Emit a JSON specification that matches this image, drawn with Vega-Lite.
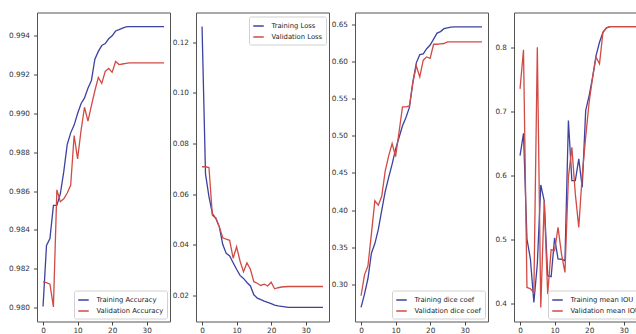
{
"$schema": "https://vega.github.io/schema/vega-lite/v6.json",
"usermeta": {"embedOptions": {"actions": false}},
"padding": {"left": 8, "top": 11.5, "right": 0, "bottom": 0},
"bounds": "flush",
"spacing": 26,
"config": {
  "font": "DejaVu Sans",
  "view": {"stroke": "#555555", "strokeWidth": 1},
  "axis": {"grid": false, "domain": false, "tickSize": 3.5, "tickColor": "#444444", "labelFontSize": 7.3, "labelColor": "#333333", "title": null, "labelFont": "DejaVu Sans"},
  "axisY": {"labelPadding": 4},
  "axisX": {"labelPadding": 1.5},
  "legend": {"title": null, "strokeColor": "#d0d0d0", "fillColor": "white", "padding": 3.5, "cornerRadius": 2, "offset": 3.5, "labelFontSize": 6.8, "labelColor": "#222222", "symbolType": "stroke", "symbolSize": 110, "symbolStrokeWidth": 1.5, "rowPadding": 1, "labelOffset": 7, "labelFont": "DejaVu Sans"}
},
"datasets": {
"acc": [
{"epoch":0,"series":"Training Accuracy","value":0.98005},{"epoch":1,"series":"Training Accuracy","value":0.9832},{"epoch":2,"series":"Training Accuracy","value":0.98355},{"epoch":3,"series":"Training Accuracy","value":0.98526},{"epoch":4,"series":"Training Accuracy","value":0.98526},{"epoch":5,"series":"Training Accuracy","value":0.98586},{"epoch":6,"series":"Training Accuracy","value":0.987},{"epoch":7,"series":"Training Accuracy","value":0.9884},{"epoch":8,"series":"Training Accuracy","value":0.989},{"epoch":9,"series":"Training Accuracy","value":0.9894},{"epoch":10,"series":"Training Accuracy","value":0.99},{"epoch":11,"series":"Training Accuracy","value":0.9905},{"epoch":12,"series":"Training Accuracy","value":0.9908},{"epoch":13,"series":"Training Accuracy","value":0.9913},{"epoch":14,"series":"Training Accuracy","value":0.9917},{"epoch":15,"series":"Training Accuracy","value":0.9928},{"epoch":16,"series":"Training Accuracy","value":0.9932},{"epoch":17,"series":"Training Accuracy","value":0.9935},{"epoch":18,"series":"Training Accuracy","value":0.9936},{"epoch":19,"series":"Training Accuracy","value":0.99385},{"epoch":20,"series":"Training Accuracy","value":0.994},{"epoch":21,"series":"Training Accuracy","value":0.99425},{"epoch":22,"series":"Training Accuracy","value":0.99432},{"epoch":23,"series":"Training Accuracy","value":0.9944},{"epoch":24,"series":"Training Accuracy","value":0.99446},{"epoch":25,"series":"Training Accuracy","value":0.99448},{"epoch":26,"series":"Training Accuracy","value":0.99448},{"epoch":27,"series":"Training Accuracy","value":0.99448},{"epoch":28,"series":"Training Accuracy","value":0.99448},{"epoch":29,"series":"Training Accuracy","value":0.99448},{"epoch":30,"series":"Training Accuracy","value":0.99448},{"epoch":31,"series":"Training Accuracy","value":0.99448},{"epoch":32,"series":"Training Accuracy","value":0.99448},{"epoch":33,"series":"Training Accuracy","value":0.99448},{"epoch":34,"series":"Training Accuracy","value":0.99448},{"epoch":35,"series":"Training Accuracy","value":0.99448},
{"epoch":0,"series":"Validation Accuracy","value":0.98132},{"epoch":1,"series":"Validation Accuracy","value":0.98128},{"epoch":2,"series":"Validation Accuracy","value":0.9812},{"epoch":3,"series":"Validation Accuracy","value":0.98003},{"epoch":4,"series":"Validation Accuracy","value":0.98606},{"epoch":5,"series":"Validation Accuracy","value":0.98545},{"epoch":6,"series":"Validation Accuracy","value":0.9856},{"epoch":7,"series":"Validation Accuracy","value":0.9859},{"epoch":8,"series":"Validation Accuracy","value":0.9863},{"epoch":9,"series":"Validation Accuracy","value":0.98886},{"epoch":10,"series":"Validation Accuracy","value":0.98766},{"epoch":11,"series":"Validation Accuracy","value":0.98912},{"epoch":12,"series":"Validation Accuracy","value":0.99032},{"epoch":13,"series":"Validation Accuracy","value":0.9896},{"epoch":14,"series":"Validation Accuracy","value":0.9904},{"epoch":15,"series":"Validation Accuracy","value":0.99117},{"epoch":16,"series":"Validation Accuracy","value":0.99186},{"epoch":17,"series":"Validation Accuracy","value":0.99155},{"epoch":18,"series":"Validation Accuracy","value":0.99217},{"epoch":19,"series":"Validation Accuracy","value":0.99232},{"epoch":20,"series":"Validation Accuracy","value":0.99212},{"epoch":21,"series":"Validation Accuracy","value":0.99268},{"epoch":22,"series":"Validation Accuracy","value":0.99252},{"epoch":23,"series":"Validation Accuracy","value":0.99255},{"epoch":24,"series":"Validation Accuracy","value":0.99258},{"epoch":25,"series":"Validation Accuracy","value":0.99261},{"epoch":26,"series":"Validation Accuracy","value":0.99261},{"epoch":27,"series":"Validation Accuracy","value":0.99261},{"epoch":28,"series":"Validation Accuracy","value":0.99261},{"epoch":29,"series":"Validation Accuracy","value":0.99261},{"epoch":30,"series":"Validation Accuracy","value":0.99261},{"epoch":31,"series":"Validation Accuracy","value":0.99261},{"epoch":32,"series":"Validation Accuracy","value":0.99261},{"epoch":33,"series":"Validation Accuracy","value":0.99261},{"epoch":34,"series":"Validation Accuracy","value":0.99261},{"epoch":35,"series":"Validation Accuracy","value":0.99261}
],
"loss": [
{"epoch":0,"series":"Training Loss","value":0.1263},{"epoch":1,"series":"Training Loss","value":0.068},{"epoch":2,"series":"Training Loss","value":0.059},{"epoch":3,"series":"Training Loss","value":0.0522},{"epoch":4,"series":"Training Loss","value":0.0503},{"epoch":5,"series":"Training Loss","value":0.047},{"epoch":6,"series":"Training Loss","value":0.04},{"epoch":7,"series":"Training Loss","value":0.0365},{"epoch":8,"series":"Training Loss","value":0.0355},{"epoch":9,"series":"Training Loss","value":0.0328},{"epoch":10,"series":"Training Loss","value":0.0302},{"epoch":11,"series":"Training Loss","value":0.0278},{"epoch":12,"series":"Training Loss","value":0.0266},{"epoch":13,"series":"Training Loss","value":0.025},{"epoch":14,"series":"Training Loss","value":0.0236},{"epoch":15,"series":"Training Loss","value":0.0201},{"epoch":16,"series":"Training Loss","value":0.0188},{"epoch":17,"series":"Training Loss","value":0.0182},{"epoch":18,"series":"Training Loss","value":0.0176},{"epoch":19,"series":"Training Loss","value":0.0171},{"epoch":20,"series":"Training Loss","value":0.0166},{"epoch":21,"series":"Training Loss","value":0.016},{"epoch":22,"series":"Training Loss","value":0.0157},{"epoch":23,"series":"Training Loss","value":0.0155},{"epoch":24,"series":"Training Loss","value":0.0153},{"epoch":25,"series":"Training Loss","value":0.0151},{"epoch":26,"series":"Training Loss","value":0.0151},{"epoch":27,"series":"Training Loss","value":0.0151},{"epoch":28,"series":"Training Loss","value":0.0151},{"epoch":29,"series":"Training Loss","value":0.0151},{"epoch":30,"series":"Training Loss","value":0.0151},{"epoch":31,"series":"Training Loss","value":0.0151},{"epoch":32,"series":"Training Loss","value":0.0151},{"epoch":33,"series":"Training Loss","value":0.0151},{"epoch":34,"series":"Training Loss","value":0.0151},{"epoch":35,"series":"Training Loss","value":0.0151},
{"epoch":0,"series":"Validation Loss","value":0.0708},{"epoch":1,"series":"Validation Loss","value":0.0708},{"epoch":2,"series":"Validation Loss","value":0.0705},{"epoch":3,"series":"Validation Loss","value":0.0515},{"epoch":4,"series":"Validation Loss","value":0.0505},{"epoch":5,"series":"Validation Loss","value":0.047},{"epoch":6,"series":"Validation Loss","value":0.0427},{"epoch":7,"series":"Validation Loss","value":0.0421},{"epoch":8,"series":"Validation Loss","value":0.0417},{"epoch":9,"series":"Validation Loss","value":0.0346},{"epoch":10,"series":"Validation Loss","value":0.0391},{"epoch":11,"series":"Validation Loss","value":0.0335},{"epoch":12,"series":"Validation Loss","value":0.0292},{"epoch":13,"series":"Validation Loss","value":0.0328},{"epoch":14,"series":"Validation Loss","value":0.0302},{"epoch":15,"series":"Validation Loss","value":0.0253},{"epoch":16,"series":"Validation Loss","value":0.0247},{"epoch":17,"series":"Validation Loss","value":0.0238},{"epoch":18,"series":"Validation Loss","value":0.0243},{"epoch":19,"series":"Validation Loss","value":0.0236},{"epoch":20,"series":"Validation Loss","value":0.0251},{"epoch":21,"series":"Validation Loss","value":0.0225},{"epoch":22,"series":"Validation Loss","value":0.0229},{"epoch":23,"series":"Validation Loss","value":0.0232},{"epoch":24,"series":"Validation Loss","value":0.0233},{"epoch":25,"series":"Validation Loss","value":0.0234},{"epoch":26,"series":"Validation Loss","value":0.0234},{"epoch":27,"series":"Validation Loss","value":0.0234},{"epoch":28,"series":"Validation Loss","value":0.0234},{"epoch":29,"series":"Validation Loss","value":0.0234},{"epoch":30,"series":"Validation Loss","value":0.0234},{"epoch":31,"series":"Validation Loss","value":0.0234},{"epoch":32,"series":"Validation Loss","value":0.0234},{"epoch":33,"series":"Validation Loss","value":0.0234},{"epoch":34,"series":"Validation Loss","value":0.0234},{"epoch":35,"series":"Validation Loss","value":0.0234}
],
"dice": [
{"epoch":0,"series":"Training dice coef","value":0.2691},{"epoch":1,"series":"Training dice coef","value":0.287},{"epoch":2,"series":"Training dice coef","value":0.308},{"epoch":3,"series":"Training dice coef","value":0.342},{"epoch":4,"series":"Training dice coef","value":0.355},{"epoch":5,"series":"Training dice coef","value":0.374},{"epoch":6,"series":"Training dice coef","value":0.4},{"epoch":7,"series":"Training dice coef","value":0.425},{"epoch":8,"series":"Training dice coef","value":0.444},{"epoch":9,"series":"Training dice coef","value":0.4618},{"epoch":10,"series":"Training dice coef","value":0.482},{"epoch":11,"series":"Training dice coef","value":0.4976},{"epoch":12,"series":"Training dice coef","value":0.5133},{"epoch":13,"series":"Training dice coef","value":0.5245},{"epoch":14,"series":"Training dice coef","value":0.538},{"epoch":15,"series":"Training dice coef","value":0.572},{"epoch":16,"series":"Training dice coef","value":0.598},{"epoch":17,"series":"Training dice coef","value":0.609},{"epoch":18,"series":"Training dice coef","value":0.61},{"epoch":19,"series":"Training dice coef","value":0.617},{"epoch":20,"series":"Training dice coef","value":0.622},{"epoch":21,"series":"Training dice coef","value":0.63},{"epoch":22,"series":"Training dice coef","value":0.638},{"epoch":23,"series":"Training dice coef","value":0.64},{"epoch":24,"series":"Training dice coef","value":0.644},{"epoch":25,"series":"Training dice coef","value":0.645},{"epoch":26,"series":"Training dice coef","value":0.646},{"epoch":27,"series":"Training dice coef","value":0.6465},{"epoch":28,"series":"Training dice coef","value":0.6465},{"epoch":29,"series":"Training dice coef","value":0.6465},{"epoch":30,"series":"Training dice coef","value":0.6465},{"epoch":31,"series":"Training dice coef","value":0.6465},{"epoch":32,"series":"Training dice coef","value":0.6465},{"epoch":33,"series":"Training dice coef","value":0.6465},{"epoch":34,"series":"Training dice coef","value":0.6465},{"epoch":35,"series":"Training dice coef","value":0.6465},
{"epoch":0,"series":"Validation dice coef","value":0.2848},{"epoch":1,"series":"Validation dice coef","value":0.313},{"epoch":2,"series":"Validation dice coef","value":0.325},{"epoch":3,"series":"Validation dice coef","value":0.368},{"epoch":4,"series":"Validation dice coef","value":0.4125},{"epoch":5,"series":"Validation dice coef","value":0.4065},{"epoch":6,"series":"Validation dice coef","value":0.419},{"epoch":7,"series":"Validation dice coef","value":0.4528},{"epoch":8,"series":"Validation dice coef","value":0.473},{"epoch":9,"series":"Validation dice coef","value":0.4895},{"epoch":10,"series":"Validation dice coef","value":0.472},{"epoch":11,"series":"Validation dice coef","value":0.505},{"epoch":12,"series":"Validation dice coef","value":0.5388},{"epoch":13,"series":"Validation dice coef","value":0.5388},{"epoch":14,"series":"Validation dice coef","value":0.54},{"epoch":15,"series":"Validation dice coef","value":0.5715},{"epoch":16,"series":"Validation dice coef","value":0.594},{"epoch":17,"series":"Validation dice coef","value":0.5792},{"epoch":18,"series":"Validation dice coef","value":0.6016},{"epoch":19,"series":"Validation dice coef","value":0.606},{"epoch":20,"series":"Validation dice coef","value":0.604},{"epoch":21,"series":"Validation dice coef","value":0.623},{"epoch":22,"series":"Validation dice coef","value":0.623},{"epoch":23,"series":"Validation dice coef","value":0.6236},{"epoch":24,"series":"Validation dice coef","value":0.624},{"epoch":25,"series":"Validation dice coef","value":0.6262},{"epoch":26,"series":"Validation dice coef","value":0.6262},{"epoch":27,"series":"Validation dice coef","value":0.6262},{"epoch":28,"series":"Validation dice coef","value":0.6262},{"epoch":29,"series":"Validation dice coef","value":0.6262},{"epoch":30,"series":"Validation dice coef","value":0.6262},{"epoch":31,"series":"Validation dice coef","value":0.6262},{"epoch":32,"series":"Validation dice coef","value":0.6262},{"epoch":33,"series":"Validation dice coef","value":0.6262},{"epoch":34,"series":"Validation dice coef","value":0.6262},{"epoch":35,"series":"Validation dice coef","value":0.6262}
],
"iou": [
{"epoch":0,"series":"Training mean IOU","value":0.6308},{"epoch":1,"series":"Training mean IOU","value":0.6656},{"epoch":2,"series":"Training mean IOU","value":0.5006},{"epoch":3,"series":"Training mean IOU","value":0.4694},{"epoch":4,"series":"Training mean IOU","value":0.4016},{"epoch":5,"series":"Training mean IOU","value":0.4616},{"epoch":6,"series":"Training mean IOU","value":0.585},{"epoch":7,"series":"Training mean IOU","value":0.56},{"epoch":8,"series":"Training mean IOU","value":0.4433},{"epoch":9,"series":"Training mean IOU","value":0.4417},{"epoch":10,"series":"Training mean IOU","value":0.5022},{"epoch":11,"series":"Training mean IOU","value":0.4694},{"epoch":12,"series":"Training mean IOU","value":0.469},{"epoch":13,"series":"Training mean IOU","value":0.4667},{"epoch":14,"series":"Training mean IOU","value":0.6855},{"epoch":15,"series":"Training mean IOU","value":0.5917},{"epoch":16,"series":"Training mean IOU","value":0.5917},{"epoch":17,"series":"Training mean IOU","value":0.6256},{"epoch":18,"series":"Training mean IOU","value":0.5813},{"epoch":19,"series":"Training mean IOU","value":0.701},{"epoch":20,"series":"Training mean IOU","value":0.7245},{"epoch":21,"series":"Training mean IOU","value":0.753},{"epoch":22,"series":"Training mean IOU","value":0.787},{"epoch":23,"series":"Training mean IOU","value":0.8078},{"epoch":24,"series":"Training mean IOU","value":0.8234},{"epoch":25,"series":"Training mean IOU","value":0.8302},{"epoch":26,"series":"Training mean IOU","value":0.8323},{"epoch":27,"series":"Training mean IOU","value":0.8323},{"epoch":28,"series":"Training mean IOU","value":0.8323},{"epoch":29,"series":"Training mean IOU","value":0.8323},{"epoch":30,"series":"Training mean IOU","value":0.8323},{"epoch":31,"series":"Training mean IOU","value":0.8323},{"epoch":32,"series":"Training mean IOU","value":0.8323},{"epoch":33,"series":"Training mean IOU","value":0.8323},{"epoch":34,"series":"Training mean IOU","value":0.8323},{"epoch":35,"series":"Training mean IOU","value":0.8323},
{"epoch":0,"series":"Validation mean IOU","value":0.735},{"epoch":1,"series":"Validation mean IOU","value":0.796},{"epoch":2,"series":"Validation mean IOU","value":0.425},{"epoch":3,"series":"Validation mean IOU","value":0.423},{"epoch":4,"series":"Validation mean IOU","value":0.417},{"epoch":5,"series":"Validation mean IOU","value":0.8},{"epoch":6,"series":"Validation mean IOU","value":0.3937},{"epoch":7,"series":"Validation mean IOU","value":0.56},{"epoch":8,"series":"Validation mean IOU","value":0.4147},{"epoch":9,"series":"Validation mean IOU","value":0.484},{"epoch":10,"series":"Validation mean IOU","value":0.4823},{"epoch":11,"series":"Validation mean IOU","value":0.5188},{"epoch":12,"series":"Validation mean IOU","value":0.4771},{"epoch":13,"series":"Validation mean IOU","value":0.4484},{"epoch":14,"series":"Validation mean IOU","value":0.597},{"epoch":15,"series":"Validation mean IOU","value":0.6438},{"epoch":16,"series":"Validation mean IOU","value":0.571},{"epoch":17,"series":"Validation mean IOU","value":0.5188},{"epoch":18,"series":"Validation mean IOU","value":0.6},{"epoch":19,"series":"Validation mean IOU","value":0.66},{"epoch":20,"series":"Validation mean IOU","value":0.714},{"epoch":21,"series":"Validation mean IOU","value":0.753},{"epoch":22,"series":"Validation mean IOU","value":0.7844},{"epoch":23,"series":"Validation mean IOU","value":0.774},{"epoch":24,"series":"Validation mean IOU","value":0.8234},{"epoch":25,"series":"Validation mean IOU","value":0.83},{"epoch":26,"series":"Validation mean IOU","value":0.8323},{"epoch":27,"series":"Validation mean IOU","value":0.8323},{"epoch":28,"series":"Validation mean IOU","value":0.8323},{"epoch":29,"series":"Validation mean IOU","value":0.8323},{"epoch":30,"series":"Validation mean IOU","value":0.8323},{"epoch":31,"series":"Validation mean IOU","value":0.8323},{"epoch":32,"series":"Validation mean IOU","value":0.8323},{"epoch":33,"series":"Validation mean IOU","value":0.8323},{"epoch":34,"series":"Validation mean IOU","value":0.8323},{"epoch":35,"series":"Validation mean IOU","value":0.8323}
]
},
"resolve": {"scale": {"color": "independent", "y": "independent", "x": "independent"}, "legend": {"color": "independent"}},
"hconcat": [
{
 "width": 133, "height": 309,
 "data": {"name": "acc"},
 "mark": {"type": "line", "strokeWidth": 1.3},
 "encoding": {
  "x": {"field": "epoch", "type": "quantitative", "scale": {"domain": [-1.75, 36.75], "nice": false, "zero": false}, "axis": {"values": [0, 10, 20, 30]}},
  "y": {"field": "value", "type": "quantitative", "scale": {"domain": [0.979276, 0.995204], "nice": false, "zero": false}, "axis": {"values": [0.980, 0.982, 0.984, 0.986, 0.988, 0.990, 0.992, 0.994], "format": ".3f"}},
  "color": {"field": "series", "type": "nominal", "scale": {"domain": ["Training Accuracy", "Validation Accuracy"], "range": ["#3d42a0", "#d14b45"]}, "legend": {"orient": "bottom-right"}}
 }
},
{
 "width": 133, "height": 309,
 "data": {"name": "loss"},
 "mark": {"type": "line", "strokeWidth": 1.3},
 "encoding": {
  "x": {"field": "epoch", "type": "quantitative", "scale": {"domain": [-1.75, 36.75], "nice": false, "zero": false}, "axis": {"values": [0, 10, 20, 30]}},
  "y": {"field": "value", "type": "quantitative", "scale": {"domain": [0.00954, 0.13186], "nice": false, "zero": false}, "axis": {"values": [0.02, 0.04, 0.06, 0.08, 0.10, 0.12], "format": ".2f"}},
  "color": {"field": "series", "type": "nominal", "scale": {"domain": ["Training Loss", "Validation Loss"], "range": ["#3d42a0", "#d14b45"]}, "legend": {"orient": "top-right"}}
 }
},
{
 "width": 133, "height": 309,
 "data": {"name": "dice"},
 "mark": {"type": "line", "strokeWidth": 1.3},
 "encoding": {
  "x": {"field": "epoch", "type": "quantitative", "scale": {"domain": [-1.75, 36.75], "nice": false, "zero": false}, "axis": {"values": [0, 10, 20, 30]}},
  "y": {"field": "value", "type": "quantitative", "scale": {"domain": [0.2502, 0.6657], "nice": false, "zero": false}, "axis": {"values": [0.30, 0.35, 0.40, 0.45, 0.50, 0.55, 0.60, 0.65], "format": ".2f"}},
  "color": {"field": "series", "type": "nominal", "scale": {"domain": ["Training dice coef", "Validation dice coef"], "range": ["#3d42a0", "#d14b45"]}, "legend": {"orient": "bottom-right"}}
 }
},
{
 "width": 133, "height": 309,
 "data": {"name": "iou"},
 "mark": {"type": "line", "strokeWidth": 1.3},
 "encoding": {
  "x": {"field": "epoch", "type": "quantitative", "scale": {"domain": [-1.75, 36.75], "nice": false, "zero": false}, "axis": {"values": [0, 10, 20, 30]}},
  "y": {"field": "value", "type": "quantitative", "scale": {"domain": [0.3718, 0.8542], "nice": false, "zero": false}, "axis": {"values": [0.4, 0.5, 0.6, 0.7, 0.8], "format": ".1f"}},
  "color": {"field": "series", "type": "nominal", "scale": {"domain": ["Training mean IOU", "Validation mean IOU"], "range": ["#3d42a0", "#d14b45"]}, "legend": {"orient": "bottom-right"}}
 }
}
]
}
